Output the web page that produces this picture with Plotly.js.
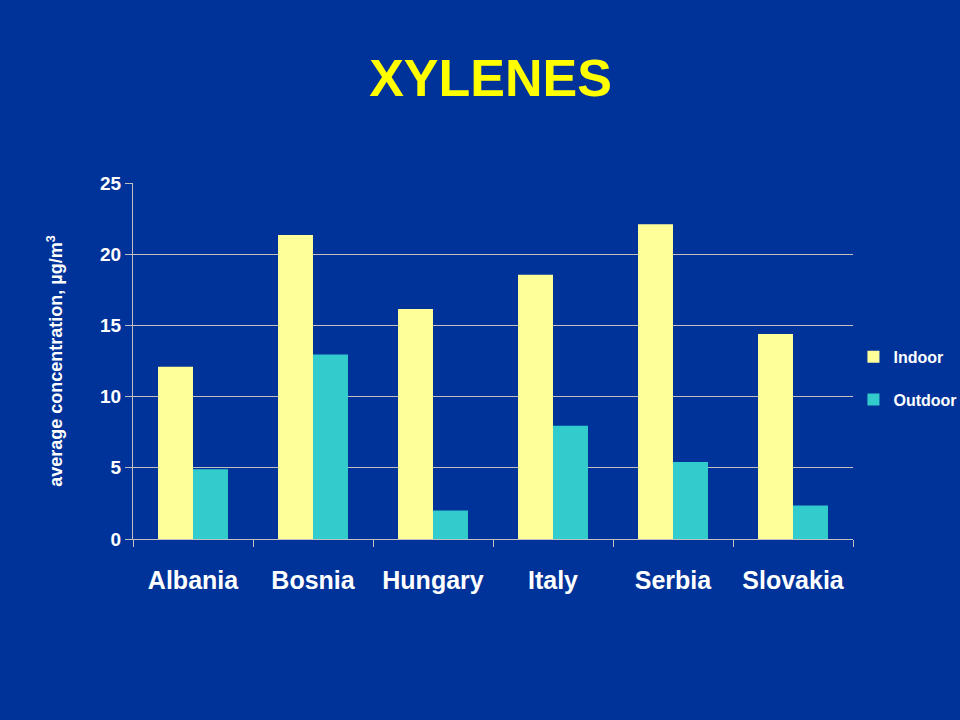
<!DOCTYPE html>
<html>
<head>
<meta charset="utf-8">
<script src="https://cdn.plot.ly/plotly-3.0.1.min.js"></script>
<style>html,body{margin:0;padding:0;background:#003399;}</style>
</head>
<body>
<div id="chart" style="width:960px;height:720px;"></div>
<script>
const countries = ["Albania", "Bosnia", "Hungary", "Italy", "Serbia", "Slovakia"];
const indoor = [12.1, 21.35, 16.15, 18.55, 22.1, 14.4];
const outdoor = [4.9, 12.95, 2.0, 7.95, 5.4, 2.35];
const yTicks = [0, 5, 10, 15, 20, 25];

const FONT = "Liberation Sans, Arial, sans-serif";

const data = [
  {type: "bar", name: "Indoor", x: countries, y: indoor,
   marker: {color: "#FFFF99", line: {width: 0}}, legendgroup: "a"},
  {type: "bar", name: "Outdoor", x: countries, y: outdoor,
   marker: {color: "#33CCCC", line: {width: 0}}, legendgroup: "b"}
];

const layout = {
  width: 960, height: 720,
  paper_bgcolor: "#003399", plot_bgcolor: "#003399",
  margin: {l: 133, r: 107, t: 183, b: 181},
  font: {family: FONT, color: "#FFFFFF"},
  title: {text: "<b>XYLENES</b>", font: {family: FONT, size: 52, color: "#FFFF00"},
          x: 0.511, xanchor: "center", y: 0.892, yanchor: "middle"},
  barmode: "group", bargap: 0.417, bargroupgap: 0,
  xaxis: {
    type: "category", tickson: "boundaries", ticks: "outside", ticklen: 7,
    tickcolor: "#C0C0C0", tickwidth: 1,
    showline: true, linecolor: "#C0C0C0", linewidth: 1,
    showgrid: false,
    tickfont: {family: FONT, size: 25, color: "#FFFFFF", weight: "bold"},
    ticklabelstandoff: 19
  },
  yaxis: {
    range: [0, 25], tickvals: yTicks, ticktext: yTicks.map(String),
    ticks: "outside", ticklen: 7, tickcolor: "#C0C0C0",
    showline: true, linecolor: "#C0C0C0", linewidth: 1,
    showgrid: true, gridcolor: "#C0C0C0", gridwidth: 1,
    zeroline: false,
    tickfont: {family: FONT, size: 19, color: "#FFFFFF", weight: "bold"},
    title: {text: "<b>average concentration, µg/m<sup>3</sup></b>",
            font: {family: FONT, size: 18, color: "#FFFFFF"}, standoff: 32}
  },
  legend: {
    xref: "container", yref: "container",
    x: 0.889, xanchor: "left", y: 0.528, yanchor: "top",
    bgcolor: "rgba(0,0,0,0)", tracegroupgap: 19, itemwidth: 30,
    font: {family: FONT, size: 16, color: "#FFFFFF", weight: "bold"}
  }
};

Plotly.newPlot("chart", data, layout, {displayModeBar: false, staticPlot: true});
</script>
</body>
</html>
